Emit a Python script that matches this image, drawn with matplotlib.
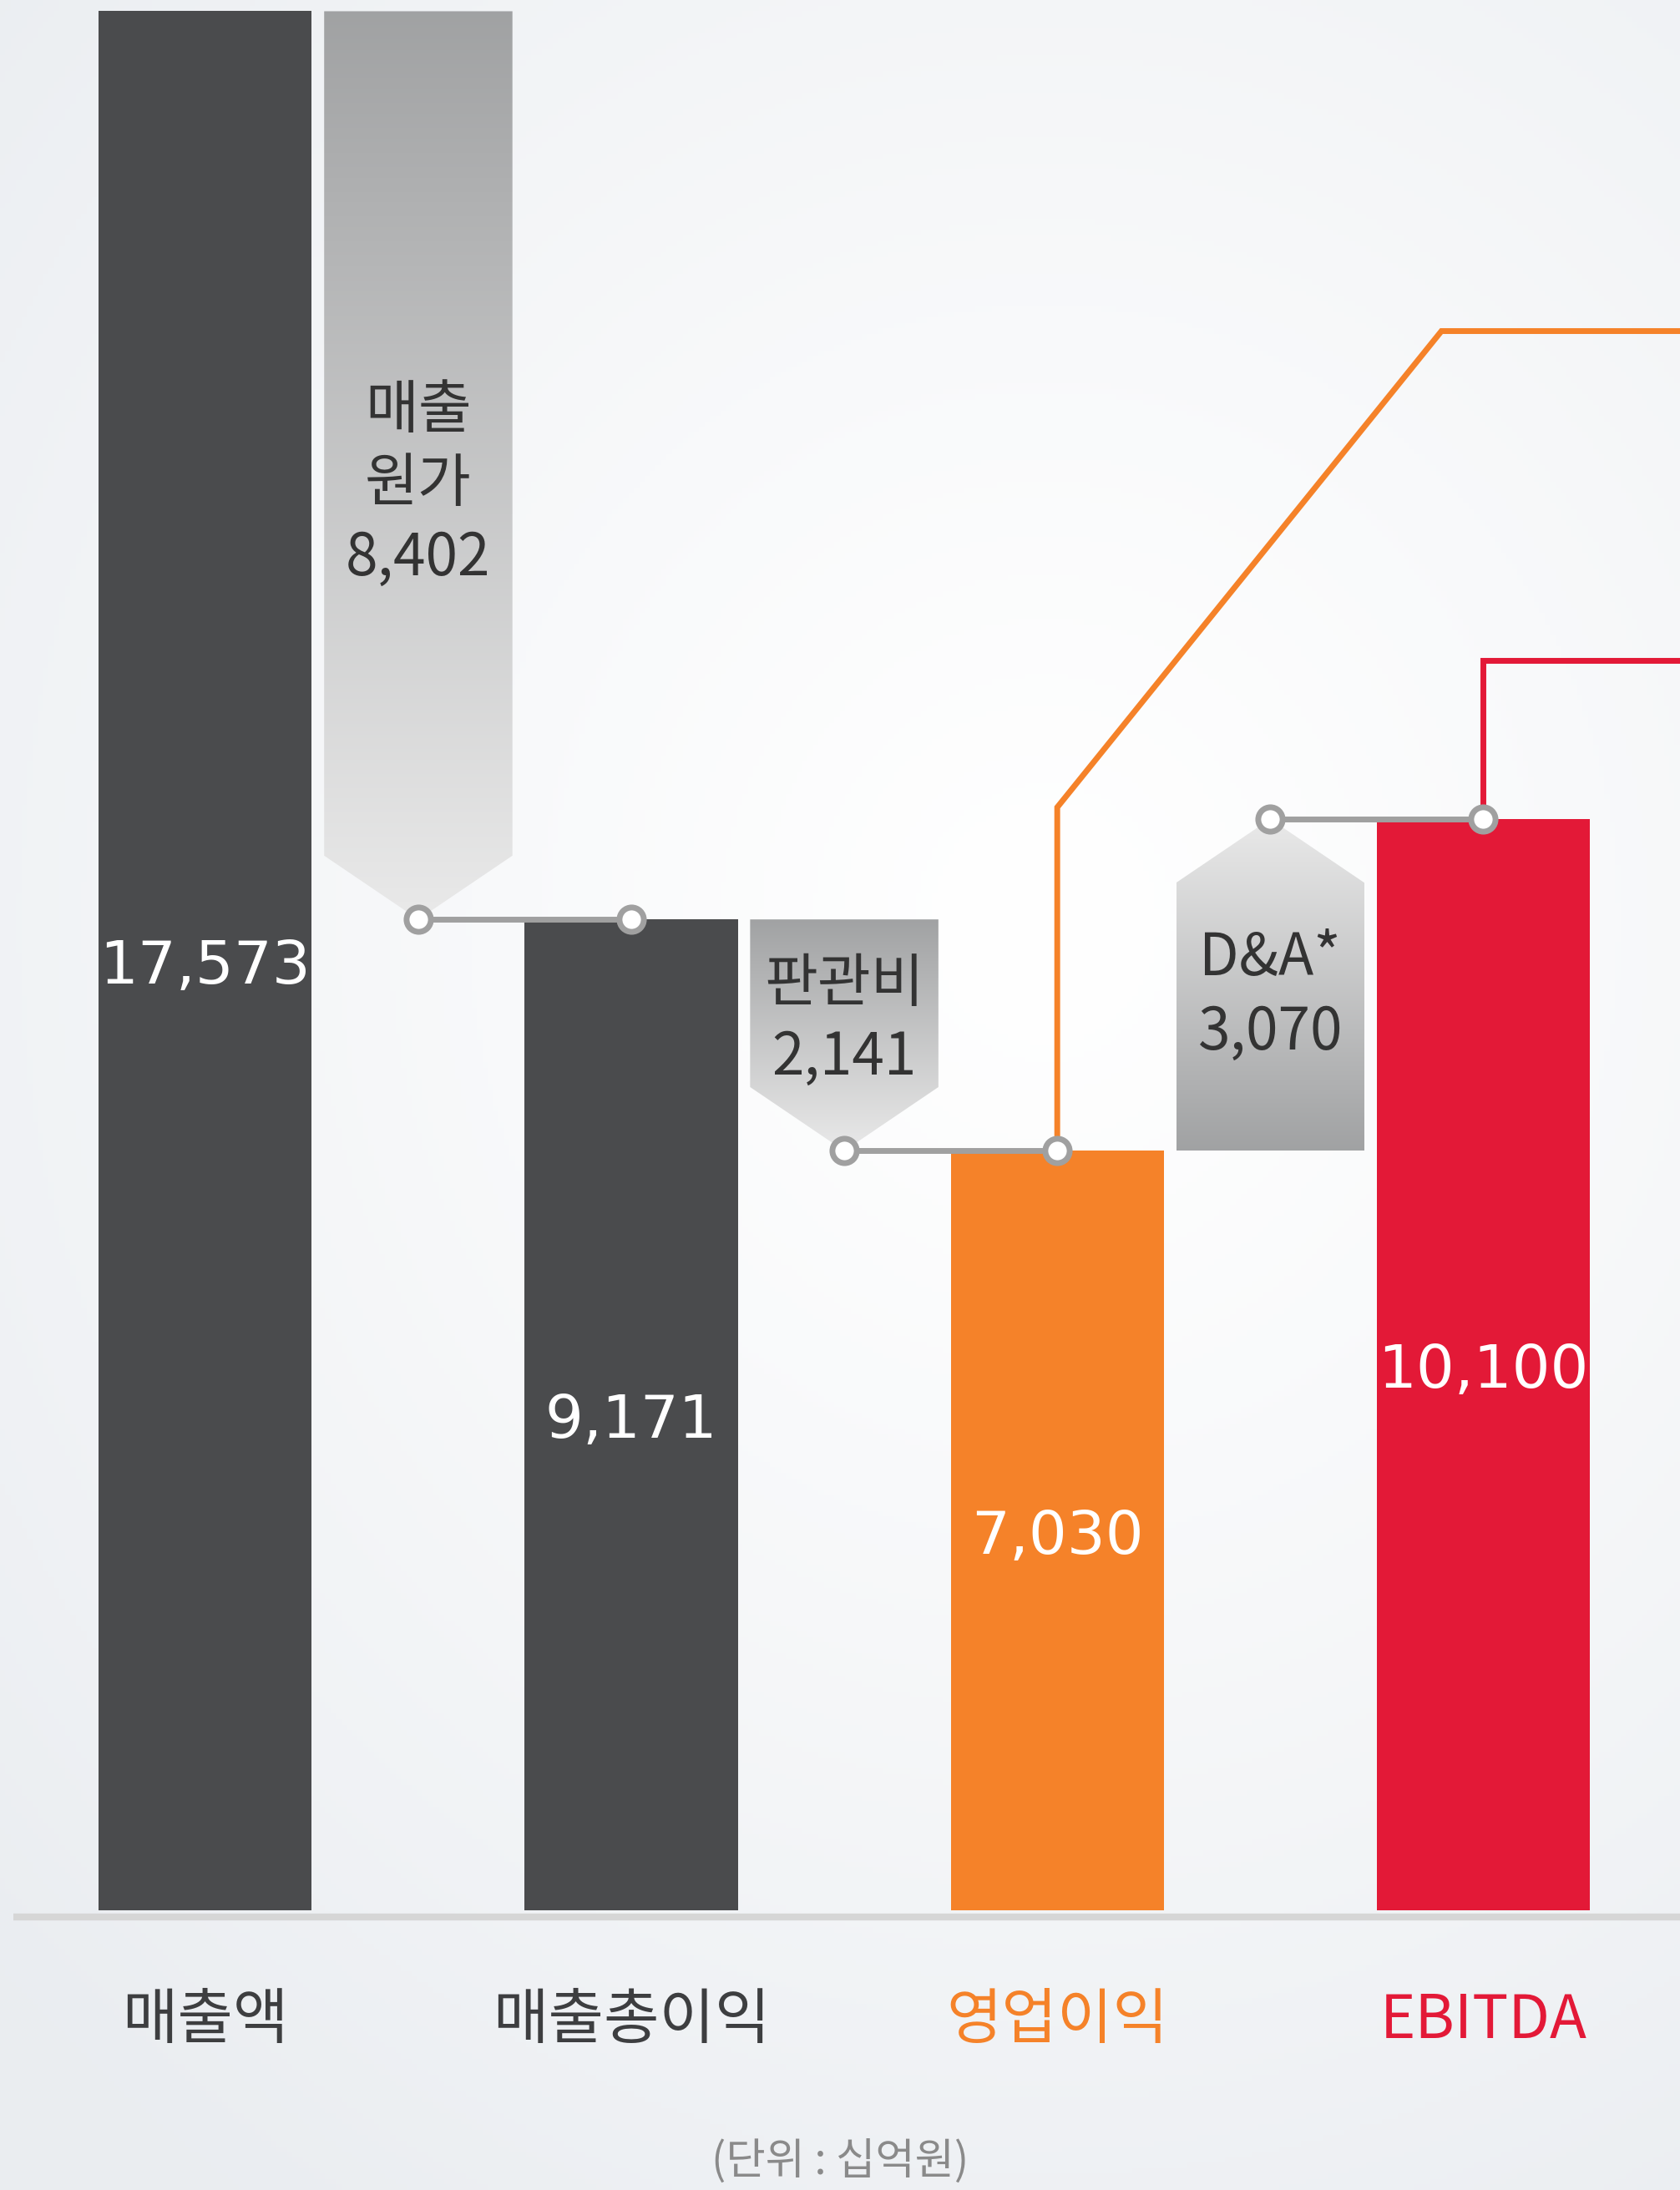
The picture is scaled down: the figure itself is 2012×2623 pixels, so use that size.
import numpy as np
import matplotlib
matplotlib.use("Agg")
import matplotlib.pyplot as plt
from matplotlib.patches import Polygon

plt.rcParams['font.family'] = ['Noto Sans CJK KR', 'DejaVu Sans']

# data (단위 : 십억원)
categories = ['매출액', '매출총이익', '영업이익', 'EBITDA']
values = [17573, 9171, 7030, 10100]
step_labels = ['매출\n원가', '판관비', 'D&A*']
step_values = [8402, 2141, 3070]
unit_label = '(단위 : 십억원)'

bar_colors = ['#4a4b4d', '#4a4b4d', '#f58229', '#e31937']
label_colors = ['#3d3e40', '#3d3e40', '#f58229', '#e31937']
GRAY = '#a0a0a0'

fig = plt.figure(figsize=(20.12, 26.23), dpi=100)
ax = fig.add_axes([0, 0, 1, 1])
x0, x1 = -0.482, 3.462
y0, y1 = -2584, 17677
ax.set_xlim(x0, x1)
ax.set_ylim(y0, y1)
ax.axis('off')

# background: soft light gradient
h, w = 400, 310
yy, xx = np.mgrid[0:h, 0:w]
u = xx / w
v = yy / h
d = np.sqrt(((u - 0.62) / 0.85) ** 2 + ((v - 0.42) / 0.7) ** 2)
t = np.clip(d, 0, 1) ** 1.2
edge = np.array([0.918, 0.930, 0.945])
white = np.array([1.0, 1.0, 1.0])
bg = white[None, None, :] * (1 - t[..., None]) + edge[None, None, :] * t[..., None]
ax.imshow(bg, extent=[x0, x1, y0, y1], aspect='auto', zorder=0, origin='upper')

# bars
x = np.arange(len(categories))
ax.bar(x, values, width=0.5, color=bar_colors, zorder=3)

# baseline
ax.hlines(-60, -0.45, x1, color='#d6d6d6', lw=6, zorder=2)

# value labels inside bars
for i, val in enumerate(values):
    ax.text(x[i], val / 2 - 60, f'{val:,}', color='white', fontsize=52,
            family='DejaVu Sans', ha='center', va='center', zorder=6)

# category labels
for i, cat in enumerate(categories):
    ax.text(x[i], -1020, cat, color=label_colors[i], fontsize=52,
            ha='center', va='center', zorder=6)

ax.text(1.49, -2330, unit_label, color='#8a8a8a', fontsize=37,
        ha='center', va='center', zorder=6)

# step boxes (arrow-shaped, gradient filled)
half = 0.221
chev = 590
for i, (lab, sv) in enumerate(zip(step_labels, step_values)):
    start, end = values[i], values[i + 1]
    xc = x[i] + 0.5
    xa, xb = xc - half, xc + half
    if end < start:
        poly = [(xa, start), (xb, start), (xb, end + chev), (xc, end), (xa, end + chev)]
        grad = np.linspace(0, 1, 256)[:, None]  # top dark -> bottom light
        ylo, yhi = end, start
        ty = (start + end) / 2 - (180 if i == 0 else -130)
    else:
        poly = [(xa, start), (xb, start), (xb, end - chev), (xc, end), (xa, end - chev)]
        grad = np.linspace(1, 0, 256)[:, None]  # top light -> bottom dark
        ylo, yhi = start, end
        ty = (start + end) / 2 - 100
    c_dark = np.array([0.63, 0.635, 0.64])
    c_light = np.array([0.915, 0.915, 0.915])
    img = c_dark[None, None, :] * (1 - grad[..., None]) + c_light[None, None, :] * grad[..., None]
    img = np.repeat(img, 4, axis=1)
    patch = Polygon(poly, closed=True, facecolor='none', edgecolor='none', zorder=2)
    ax.add_patch(patch)
    im = ax.imshow(img, extent=[xa, xb, ylo, yhi], aspect='auto', origin='upper', zorder=2)
    im.set_clip_path(patch)
    ax.text(xc, ty, f'{lab}\n{sv:,}', color='#333333', fontsize=50,
            ha='center', va='center', linespacing=1.3, zorder=6)

    # connector from arrow tip to the next bar
    ax.plot([xc, x[i + 1]], [end, end], color=GRAY, lw=5, zorder=4,
            solid_capstyle='butt')
    ax.plot([xc, x[i + 1]], [end, end], 'o', ms=21, mfc='white', mec=GRAY,
            mew=5, zorder=7)

# lead lines to the right
ax.plot([x[2], x[2], 2.902, x1 + 0.1], [values[2], 10208, 14614, 14614],
        color='#f58229', lw=5, zorder=5, solid_joinstyle='miter')
ax.plot([x[3], x[3], x1 + 0.1], [values[3], 11565, 11565],
        color='#e31937', lw=5, zorder=5, solid_joinstyle='miter')

fig.savefig('out.png', dpi=100)
